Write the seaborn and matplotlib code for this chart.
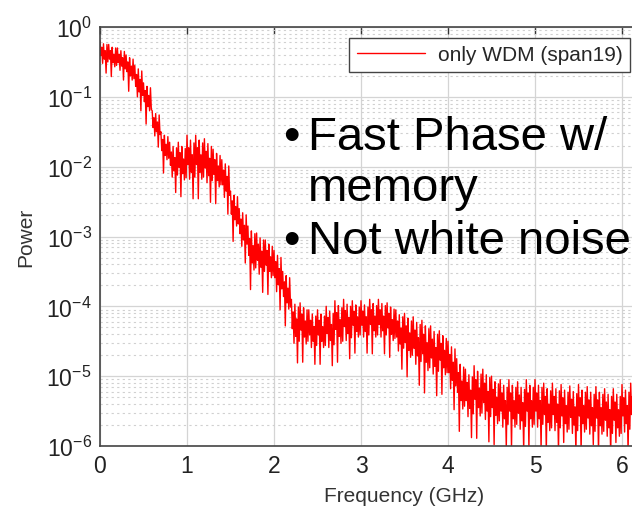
import numpy as np
import pandas as pd
import matplotlib
matplotlib.use("Agg")
import matplotlib.pyplot as plt
import seaborn as sns
from matplotlib.ticker import LogLocator, LogFormatterMathtext, NullFormatter, FixedLocator

# ---- data ----
freq_step_ghz = 0.01
# log10(power) samples every 0.01 GHz starting at 0 GHz (one row = 0.1 GHz)
log_power = [
    -0.20, -0.41, -0.29, -0.52, -0.24, -0.46, -0.34, -0.66, -0.25, -0.50,
    -0.25, -0.46, -0.34, -0.71, -0.29, -0.51, -0.39, -0.57, -0.30, -0.55,
    -0.30, -0.51, -0.39, -0.62, -0.34, -0.56, -0.44, -0.76, -0.35, -0.60,
    -0.40, -0.64, -0.50, -0.92, -0.44, -0.70, -0.56, -0.76, -0.46, -0.74,
    -0.55, -0.85, -0.68, -1.00, -0.60, -0.93, -0.75, -1.20, -0.63, -0.98,
    -0.80, -1.07, -0.91, -1.39, -0.85, -1.14, -0.98, -1.20, -0.87, -1.18,
    -1.20, -1.44, -1.30, -1.56, -1.24, -1.50, -1.36, -1.72, -1.26, -1.54,
    -1.50, -1.77, -1.61, -2.09, -1.55, -1.84, -1.68, -1.90, -1.57, -1.88,
    -1.65, -1.98, -1.79, -2.15, -1.71, -2.06, -1.87, -2.37, -1.73, -2.12,
    -1.65, -2.01, -1.80, -2.43, -1.71, -2.10, -1.89, -2.19, -1.74, -2.16,
    -1.55, -1.97, -1.73, -2.18, -1.62, -2.08, -1.83, -2.46, -1.66, -2.15,
    -1.55, -1.97, -1.73, -2.46, -1.62, -2.08, -1.83, -2.18, -1.66, -2.15,
    -1.60, -2.02, -1.78, -2.23, -1.67, -2.13, -1.88, -2.51, -1.71, -2.20,
    -1.75, -2.11, -1.90, -2.53, -1.81, -2.20, -1.99, -2.29, -1.84, -2.26,
    -1.90, -2.26, -2.05, -2.44, -1.96, -2.35, -2.14, -2.68, -1.99, -2.41,
    -2.35, -2.68, -2.49, -3.07, -2.41, -2.76, -2.57, -2.85, -2.43, -2.82,
    -2.60, -2.96, -2.75, -3.14, -2.66, -3.05, -2.84, -3.38, -2.69, -3.11,
    -2.85, -3.27, -3.03, -3.76, -2.92, -3.38, -3.13, -3.48, -2.96, -3.45,
    -2.95, -3.34, -3.11, -3.54, -3.02, -3.44, -3.21, -3.80, -3.05, -3.50,
    -3.05, -3.41, -3.20, -3.83, -3.11, -3.50, -3.29, -3.59, -3.14, -3.56,
    -3.20, -3.59, -3.36, -3.79, -3.27, -3.69, -3.46, -4.05, -3.30, -3.75,
    -3.50, -3.86, -3.65, -4.28, -3.56, -3.95, -3.74, -4.04, -3.59, -4.01,
    -3.90, -4.32, -4.08, -4.53, -3.97, -4.43, -4.18, -4.81, -4.01, -4.50,
    -3.95, -4.34, -4.11, -4.80, -4.02, -4.44, -4.21, -4.54, -4.05, -4.50,
    -4.05, -4.41, -4.20, -4.59, -4.11, -4.50, -4.29, -4.83, -4.14, -4.56,
    -4.05, -4.41, -4.20, -4.83, -4.11, -4.50, -4.29, -4.59, -4.14, -4.56,
    -4.00, -4.39, -4.16, -4.59, -4.07, -4.49, -4.26, -4.85, -4.10, -4.55,
    -3.92, -4.33, -4.09, -4.80, -3.99, -4.43, -4.19, -4.53, -4.02, -4.50,
    -3.90, -4.29, -4.06, -4.49, -3.97, -4.39, -4.16, -4.75, -4.00, -4.45,
    -3.92, -4.27, -4.07, -4.67, -3.98, -4.36, -4.15, -4.44, -4.01, -4.41,
    -3.92, -4.27, -4.07, -4.44, -3.98, -4.36, -4.15, -4.67, -4.01, -4.41,
    -3.90, -4.26, -4.05, -4.68, -3.96, -4.35, -4.14, -4.44, -3.99, -4.41,
    -3.90, -4.26, -4.05, -4.44, -3.96, -4.35, -4.14, -4.68, -3.99, -4.41,
    -3.95, -4.31, -4.10, -4.73, -4.01, -4.40, -4.19, -4.49, -4.04, -4.46,
    -4.05, -4.44, -4.21, -4.64, -4.12, -4.54, -4.31, -4.90, -4.15, -4.60,
    -4.10, -4.52, -4.28, -5.01, -4.17, -4.63, -4.38, -4.73, -4.21, -4.70,
    -4.15, -4.60, -4.34, -4.83, -4.23, -4.71, -4.45, -5.13, -4.26, -4.79,
    -4.20, -4.68, -4.40, -5.24, -4.28, -4.80, -4.52, -4.92, -4.32, -4.88,
    -4.28, -4.74, -4.47, -4.97, -4.36, -4.86, -4.59, -5.28, -4.40, -4.93,
    -4.35, -4.77, -4.53, -5.26, -4.42, -4.88, -4.63, -4.98, -4.46, -4.95,
    -4.50, -4.95, -4.69, -5.18, -4.58, -5.06, -4.80, -5.48, -4.61, -5.14,
    -4.75, -5.23, -4.95, -5.79, -4.83, -5.35, -5.07, -5.47, -4.87, -5.43,
    -4.90, -5.35, -5.09, -5.58, -4.98, -5.46, -5.20, -5.88, -5.01, -5.54,
    -4.85, -5.33, -5.05, -5.89, -4.93, -5.45, -5.17, -5.57, -4.97, -5.53,
    -4.90, -5.38, -5.10, -5.62, -4.98, -5.50, -5.22, -5.94, -5.02, -5.58,
    -5.00, -5.45, -5.19, -5.98, -5.08, -5.56, -5.30, -5.68, -5.11, -5.64,
    -5.05, -5.50, -5.24, -5.73, -5.13, -5.61, -5.35, -6.03, -5.16, -5.69,
    -5.05, -5.50, -5.24, -6.03, -5.13, -5.61, -5.35, -5.73, -5.16, -5.69,
    -5.08, -5.53, -5.27, -5.76, -5.16, -5.64, -5.38, -6.06, -5.19, -5.72,
    -5.05, -5.50, -5.24, -6.03, -5.13, -5.61, -5.35, -5.73, -5.16, -5.69,
    -5.05, -5.50, -5.24, -5.73, -5.13, -5.61, -5.35, -6.03, -5.16, -5.69,
    -5.10, -5.55, -5.29, -6.08, -5.18, -5.66, -5.40, -5.78, -5.21, -5.74,
    -5.10, -5.55, -5.29, -5.78, -5.18, -5.66, -5.40, -6.08, -5.21, -5.74,
    -5.12, -5.57, -5.31, -5.95, -5.20, -5.68, -5.42, -5.80, -5.23, -5.76,
    -5.14, -5.59, -5.33, -5.82, -5.22, -5.70, -5.44, -6.10, -5.25, -5.78,
    -5.12, -5.57, -5.31, -6.08, -5.20, -5.68, -5.42, -5.80, -5.23, -5.76,
    -5.15, -5.60, -5.34, -5.83, -5.23, -5.71, -5.45, -5.98, -5.26, -5.79,
    -5.15, -5.60, -5.34, -6.10, -5.23, -5.71, -5.45, -5.83, -5.26, -5.79,
    -5.18, -5.63, -5.37, -5.86, -5.26, -5.74, -5.48, -6.12, -5.29, -5.82,
    -5.18, -5.63, -5.37, -5.95, -5.26, -5.74, -5.48, -5.86, -5.29, -5.82,
    -5.12, -5.57, -5.31, -5.80, -5.20, -5.68, -5.42, -6.08, -5.23, -5.76,
    -5.10, -5.55, -5.29, -6.05, -5.18, -5.66,
]
series_label = "only WDM (span19)"
x_label = "Frequency (GHz)"
y_label = "Power"
x_ticks = [0, 1, 2, 3, 4, 5, 6, 7]
y_ticks = [1e-6, 1e-5, 1e-4, 1e-3, 1e-2, 1e-1, 1e0]
notes = ["Fast Phase w/", "memory", "Not white noise"]

freq = np.arange(len(log_power)) * freq_step_ghz
power = np.power(10.0, np.array(log_power))
df = pd.DataFrame({"freq": freq, "power": power})

# ---- style ----
sns.set_style("white")
plt.rcParams["font.family"] = ["Liberation Sans", "DejaVu Sans"]
plt.rcParams["mathtext.fontset"] = "custom"
plt.rcParams["mathtext.rm"] = "Liberation Sans"
plt.rcParams["mathtext.it"] = "Liberation Sans"

W, H = 632, 510
fig = plt.figure(figsize=(W / 100, H / 100), dpi=100)
ax_left, ax_top, ax_bottom = 100, 28, 447
px_per_ghz = 87.0
ax_width = px_per_ghz * 7.0
ax = fig.add_axes([ax_left / W, 1 - ax_bottom / H, ax_width / W, (ax_bottom - ax_top) / H])

sns.lineplot(data=df, x="freq", y="power", color="#ff0000", lw=1.0,
             estimator=None, sort=False, label=series_label, ax=ax)

ax.set_yscale("log")
ax.set_xlim(0, 7)
ax.set_ylim(1e-6, 1e0)
ax.xaxis.set_major_locator(FixedLocator(x_ticks))
ax.yaxis.set_major_locator(FixedLocator(y_ticks))
ax.yaxis.set_major_formatter(LogFormatterMathtext())
ax.yaxis.set_minor_locator(LogLocator(base=10, subs=np.arange(2, 10), numticks=20))
ax.yaxis.set_minor_formatter(NullFormatter())

ax.grid(which="major", axis="both", color="#d4d4d4", lw=0.9, ls="-")
ax.grid(which="minor", axis="y", color="#d0d0d0", lw=0.8, ls=(0, (2, 3)))
ax.set_axisbelow(True)

ax.tick_params(which="both", direction="in", top=True, right=True, colors="#333333",
               labelcolor="#222222")
ax.tick_params(which="major", length=5, width=1, labelsize=16.5, pad=6)
ax.tick_params(which="minor", length=3, width=0.8)
for s in ax.spines.values():
    s.set_color("#444444")
    s.set_linewidth(1.2)

ax.set_xlabel(x_label, fontsize=15, color="#333333", labelpad=6)
ax.set_ylabel(y_label, fontsize=15, color="#333333", labelpad=8)

leg = ax.legend(loc="upper right", bbox_to_anchor=(630 / W, 1 - 39 / H),
                bbox_transform=fig.transFigure, frameon=True, fancybox=False,
                framealpha=1, edgecolor="#444444", fontsize=15, handlelength=3.3,
                borderpad=0.35, handletextpad=0.6, borderaxespad=0)
leg.get_frame().set_linewidth(1.0)

# annotation bullets
fs = 34
fig.text(283 / W, 1 - 150 / H, "\u2022", fontsize=fs, color="black", va="baseline")
fig.text(308 / W, 1 - 150 / H, notes[0], fontsize=fs, color="black", va="baseline")
fig.text(308 / W, 1 - 201 / H, notes[1], fontsize=fs, color="black", va="baseline")
fig.text(283 / W, 1 - 254 / H, "\u2022", fontsize=fs, color="black", va="baseline")
fig.text(308 / W, 1 - 254 / H, notes[2], fontsize=fs, color="black", va="baseline")

fig.savefig("out.png", dpi=100)
